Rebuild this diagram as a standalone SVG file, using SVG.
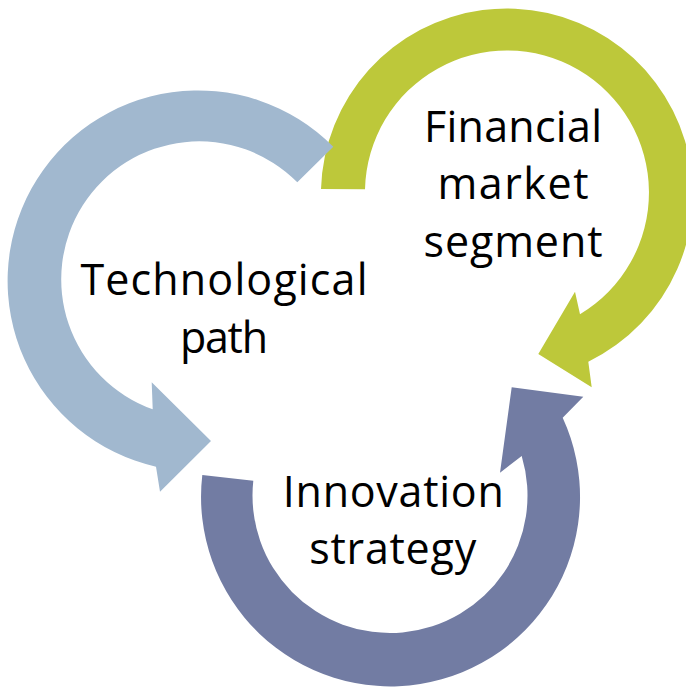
<svg xmlns="http://www.w3.org/2000/svg" width="686" height="688" viewBox="0 0 686 688">
  <style>
    .label { font-family: "Open Sans", "Noto Sans", "Liberation Sans", sans-serif; font-size: 43px; fill: #000000; text-anchor: middle; }
    .blue { fill: #A1B8CF; }
    .green { fill: #BDC83A; }
    .purple { fill: #727CA3; }
  </style>
  <rect width="686" height="688" fill="#FFFFFF"/>

  <!-- circular arrows of the cycle -->
  <g id="connectors">
    <!-- green: clockwise over the top right -->
    <path id="arrow-financial" class="green" d="M321,189 A186,186 0 1 1 588.3,361.7 L591.7,387.3 L538.3,354 L575,291.7 L580,314.3 A142,142 0 1 0 365,189.3 Z"/>
    <!-- purple: counter-clockwise under the bottom -->
    <path id="arrow-innovation" class="purple" d="M202.3,475 A189.5,189.5 0 1 0 562.7,417.7 L583.3,396.7 L511.7,387.3 L500,472.7 L521.7,456 A137.5,137.5 0 1 1 253.3,480.7 Z"/>
    <!-- blue: counter-clockwise round the left -->
    <path id="arrow-technological" class="blue" d="M333.3,146.7 A190.5,190.5 0 1 0 156,466.7 L160,491.7 L211,441 L151.7,382.3 L152.7,409.3 A138,138 0 1 1 297.3,182.3 Z"/>
  </g>

  <g id="node-technological">
    <text class="label" x="224" y="295" textLength="287">Technological</text>
    <text class="label" x="224" y="353" textLength="88">path</text>
  </g>

  <g id="node-financial">
    <text class="label" x="513" y="141.7" textLength="178">Financial</text>
    <text class="label" x="513" y="199" textLength="151">market</text>
    <text class="label" x="513" y="256.5" textLength="179">segment</text>
  </g>

  <g id="node-innovation">
    <text class="label" x="393.3" y="506.7" textLength="221">Innovation</text>
    <text class="label" x="392.7" y="564" textLength="167">strategy</text>
  </g>
</svg>
